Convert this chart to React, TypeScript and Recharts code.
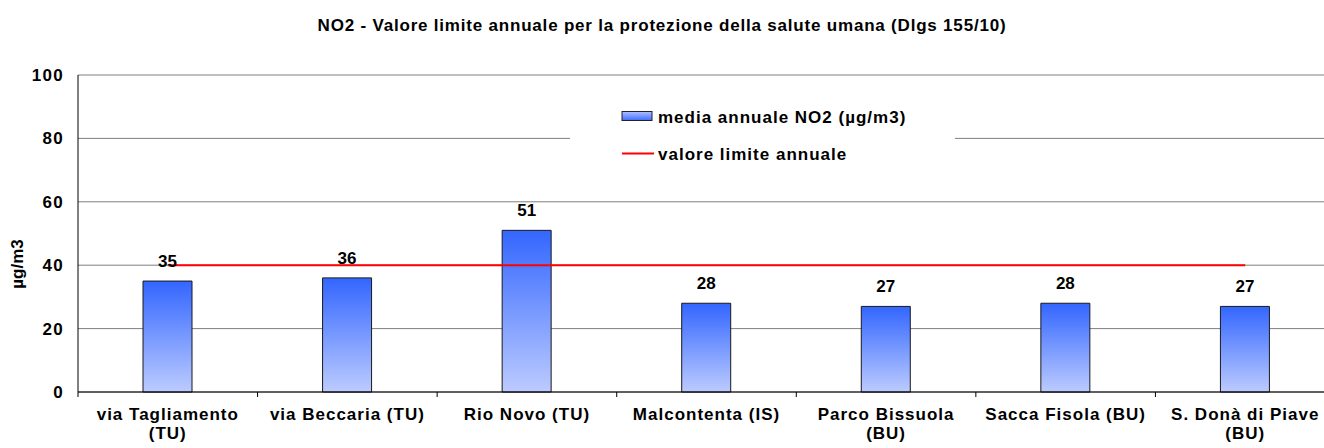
import React from "react";
import {
  ComposedChart,
  Bar,
  Line,
  XAxis,
  YAxis,
  CartesianGrid,
  LabelList,
} from "recharts";

const categories = [
  "via Tagliamento (TU)",
  "via Beccaria (TU)",
  "Rio Novo (TU)",
  "Malcontenta (IS)",
  "Parco Bissuola (BU)",
  "Sacca Fisola (BU)",
  "S. Donà di Piave (BU)",
];
const mediaAnnuale = [35, 36, 51, 28, 27, 28, 27];
const valoreLimite = [40, 40, 40, 40, 40, 40, 40];
const yTicks = [0, 20, 40, 60, 80, 100];

const seriesNames = ["media annuale NO2 (µg/m3)", "valore limite annuale"];
const title = "NO2 - Valore limite annuale per la protezione della salute umana (Dlgs 155/10)";
const yLabel = "µg/m3";

const data = categories.map((c, i) => ({
  name: c,
  media: mediaAnnuale[i],
  limite: valoreLimite[i],
}));

const CHART_W = 1340;
const CHART_H = 448;
const MARGIN = { top: 75, right: 5, left: 0, bottom: 0 };
const Y_W = 78;
const X_H = 56;
const PLOT_W = CHART_W - MARGIN.left - MARGIN.right - Y_W;
const HALF_BAND = PLOT_W / categories.length / 2;
const FONT = "'Liberation Sans', Arial, sans-serif";

function splitLabel(s: string): string[] {
  if (s.length > 18) {
    const idx = s.lastIndexOf(" (");
    if (idx > 0) return [s.slice(0, idx), s.slice(idx + 1)];
  }
  return [s];
}

const XTick = (props: any) => {
  const { x, y, payload } = props;
  const lines = splitLabel(String(payload.value));
  return (
    <g>
      <line x1={x - HALF_BAND} y1={y - 8} x2={x - HALF_BAND} y2={y - 3} stroke="#000" strokeWidth={1} />
      <text
        x={x}
        y={y + 20}
        textAnchor="middle"
        fontFamily={FONT}
        fontWeight="bold"
        fontSize={17}
        letterSpacing={1}
        fill="#000"
      >
        {lines.map((l, i) => (
          <tspan key={i} x={x} dy={i === 0 ? 0 : 19}>
            {l}
          </tspan>
        ))}
      </text>
    </g>
  );
};

const YTick = (props: any) => {
  const { y, payload } = props;
  return (
    <text
      x={64}
      y={y + 6}
      textAnchor="end"
      fontFamily={FONT}
      fontWeight="bold"
      fontSize={17}
      letterSpacing={1.3}
      fill="#000"
    >
      {payload.value}
    </text>
  );
};

const LegendBox = () => (
  <div
    style={{
      position: "absolute",
      left: 570,
      top: 101,
      width: 385,
      height: 64,
      background: "#fff",
    }}
  >
    <svg width={385} height={64} style={{ position: "absolute", left: 0, top: 0 }}>
      <defs>
        <linearGradient id="legGrad" x1="0" y1="0" x2="0" y2="1">
          <stop offset="0%" stopColor="#AFC0FF" />
          <stop offset="100%" stopColor="#3F6CFF" />
        </linearGradient>
      </defs>
      <rect x={52} y={10.5} width={30} height={9} fill="url(#legGrad)" stroke="#222" strokeWidth={1} />
      <line x1={52} y1={52.5} x2={84} y2={52.5} stroke="#FF0000" strokeWidth={2} />
      <text x={88} y={22} fontFamily={FONT} fontWeight="bold" fontSize={17} letterSpacing={1}>
        {seriesNames[0]}
      </text>
      <text x={88} y={59} fontFamily={FONT} fontWeight="bold" fontSize={17} letterSpacing={1}>
        {seriesNames[1]}
      </text>
    </svg>
  </div>
);

export default function App() {
  return (
    <div
      style={{
        position: "absolute",
        left: 0,
        top: 0,
        width: 1324,
        height: 448,
        overflow: "hidden",
        background: "#fff",
      }}
    >
      <div
        style={{
          position: "absolute",
          left: 0,
          width: 1324,
          top: 16,
          textAlign: "center",
          fontFamily: FONT,
          fontWeight: "bold",
          fontSize: 17,
          color: "#000",
          letterSpacing: 0.8,
          whiteSpace: "nowrap",
        }}
      >
        {title}
      </div>
      <div
        style={{
          position: "absolute",
          left: 18,
          top: 264,
          transform: "translate(-50%, -50%) rotate(-90deg)",
          fontFamily: FONT,
          fontWeight: "bold",
          fontSize: 17,
          whiteSpace: "nowrap",
        }}
      >
        {yLabel}
      </div>
      <div style={{ position: "absolute", left: 0, top: 0 }}>
        <ComposedChart width={CHART_W} height={CHART_H} data={data} margin={MARGIN}>
          <defs>
            <linearGradient id="barGrad" x1="0" y1="0" x2="0" y2="1">
              <stop offset="0%" stopColor="#3366FF" />
              <stop offset="100%" stopColor="#BCCBFF" />
            </linearGradient>
          </defs>
          <CartesianGrid vertical={false} stroke="#7f7f7f" strokeWidth={1} />
          <XAxis
            dataKey="name"
            height={X_H}
            tickLine={false}
            axisLine={{ stroke: "#000", strokeWidth: 1 }}
            tick={<XTick />}
            interval={0}
          />
          <YAxis
            width={Y_W}
            domain={[0, 100]}
            ticks={yTicks}
            tickLine={false}
            axisLine={{ stroke: "#000", strokeWidth: 1 }}
            tick={<YTick />}
            interval={0}
          />
          <Bar
            dataKey="media"
            name={seriesNames[0]}
            barSize={49}
            fill="url(#barGrad)"
            stroke="#1a1a1a"
            strokeWidth={1}
            isAnimationActive={false}
          >
            <LabelList
              dataKey="media"
              position="top"
              offset={14}
              fontFamily={FONT}
              fontWeight="bold"
              fontSize={17}
              fill="#000"
            />
          </Bar>
          <Line
            dataKey="limite"
            name={seriesNames[1]}
            stroke="#FF0000"
            strokeWidth={2}
            dot={false}
            activeDot={false}
            isAnimationActive={false}
          />
        </ComposedChart>
      </div>
      <LegendBox />
    </div>
  );
}
